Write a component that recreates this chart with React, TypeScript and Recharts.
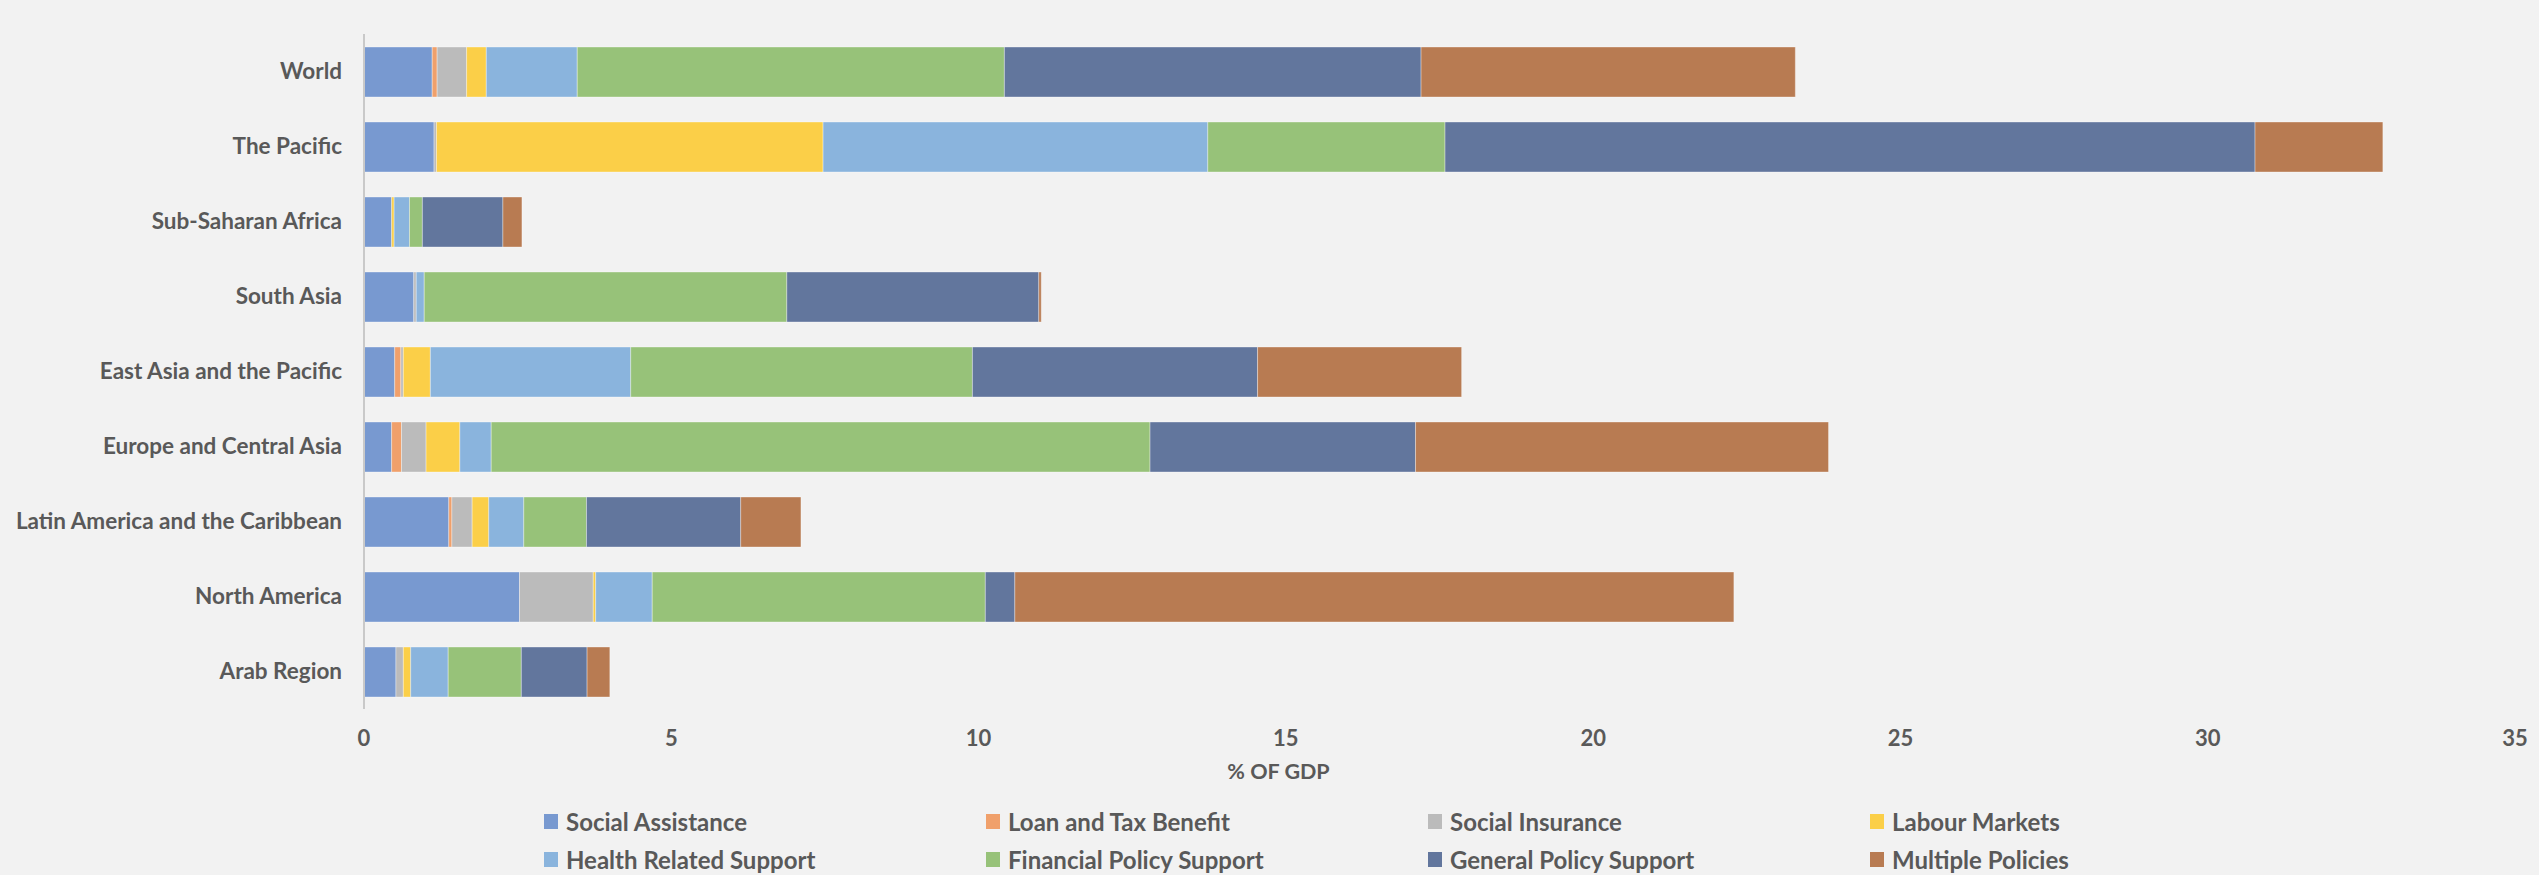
import React from 'react';
import { BarChart, Bar, XAxis, YAxis } from 'recharts';

const regions = [
  'World',
  'The Pacific',
  'Sub-Saharan Africa',
  'South Asia',
  'East Asia and the Pacific',
  'Europe and Central Asia',
  'Latin America and the Caribbean',
  'North America',
  'Arab Region',
];

const socialAssistance = [1.11, 1.14, 0.45, 0.81, 0.5, 0.45, 1.38, 2.53, 0.52];
const loanAndTax = [0.08, 0, 0, 0, 0.1, 0.16, 0.05, 0, 0];
const socialInsurance = [0.48, 0.04, 0, 0.04, 0.04, 0.4, 0.33, 1.2, 0.12];
const labourMarkets = [0.32, 6.29, 0.04, 0, 0.44, 0.55, 0.27, 0.04, 0.12];
const healthRelated = [1.48, 6.26, 0.25, 0.13, 3.26, 0.51, 0.57, 0.92, 0.61];
const financialPolicy = [6.95, 3.86, 0.21, 5.9, 5.56, 10.72, 1.02, 5.42, 1.19];
const generalPolicy = [6.78, 13.18, 1.31, 4.1, 4.64, 4.32, 2.51, 0.48, 1.07];
const multiplePolicies = [6.09, 2.08, 0.31, 0.04, 3.32, 6.72, 0.98, 11.7, 0.37];

const xTicks = [0, 5, 10, 15, 20, 25, 30, 35];

const series = [
  { key: 'sa', name: 'Social Assistance', values: socialAssistance, color: '#7899d0' },
  { key: 'lt', name: 'Loan and Tax Benefit', values: loanAndTax, color: '#f0a06b' },
  { key: 'si', name: 'Social Insurance', values: socialInsurance, color: '#bbbbbb' },
  { key: 'lm', name: 'Labour Markets', values: labourMarkets, color: '#fbcf48' },
  { key: 'hr', name: 'Health Related Support', values: healthRelated, color: '#8ab4dd' },
  { key: 'fp', name: 'Financial Policy Support', values: financialPolicy, color: '#97c279' },
  { key: 'gp', name: 'General Policy Support', values: generalPolicy, color: '#62769d' },
  { key: 'mp', name: 'Multiple Policies', values: multiplePolicies, color: '#b87b52' },
];

const data = regions.map((region, i) => {
  const row: Record<string, string | number> = { region };
  series.forEach((s) => {
    row[s.key] = s.values[i];
  });
  return row;
});

const FONT = 'Lato, "Open Sans", sans-serif';
const TEXT = '#595959';

// legend laid out as a 4 x 2 grid under the axis title
const Legend8 = () => (
  <div
    style={{
      position: 'absolute',
      left: 544,
      top: 806,
      display: 'grid',
      gridTemplateColumns: 'repeat(4, 442px)',
      rowGap: 8,
      fontFamily: FONT,
      fontWeight: 700,
      fontSize: 24,
      color: TEXT,
    }}
  >
    {series.map((s) => (
      <div key={s.key} style={{ display: 'flex', alignItems: 'center', height: 30 }}>
        <span style={{ width: 14, height: 15, background: s.color, marginRight: 8, display: 'inline-block' }} />
        <span>{s.name}</span>
      </div>
    ))}
  </div>
);

export default function App() {
  return (
    <div style={{ position: 'relative', width: 2539, height: 875, background: '#f2f2f2' }}>
      <style>{'body{margin:0;background:#f2f2f2}'}</style>
      <BarChart
        width={2539}
        height={875}
        data={data}
        layout="vertical"
        margin={{ top: 34, right: 24, left: 0, bottom: 86 }}
      >
        <XAxis
          type="number"
          domain={[0, 35]}
          ticks={xTicks}
          axisLine={false}
          tickLine={false}
          tickSize={0}
          tickMargin={21}
          height={80}
          tick={{ fill: TEXT, fontSize: 22, fontWeight: 700, fontFamily: FONT }}
          label={{
            value: '% OF GDP',
            position: 'insideBottom',
            offset: 10,
            dx: -161,
            fill: TEXT,
            fontSize: 21.5,
            fontWeight: 700,
            fontFamily: FONT,
          }}
        />
        {series.map((s) => (
          <Bar
            key={s.key}
            dataKey={s.key}
            name={s.name}
            stackId="a"
            fill={s.color}
            stroke="#ffffff"
            strokeOpacity={0.35}
            strokeWidth={1}
            barSize={50}
            isAnimationActive={false}
          />
        ))}
        <YAxis
          type="category"
          dataKey="region"
          width={364}
          tickLine={false}
          tickSize={6}
          tickMargin={16}
          axisLine={{ stroke: '#c9c9c9', strokeWidth: 2 }}
          tick={{ fill: TEXT, fontSize: 22.5, fontWeight: 700, fontFamily: FONT }}
        />
      </BarChart>
      <Legend8 />
    </div>
  );
}
